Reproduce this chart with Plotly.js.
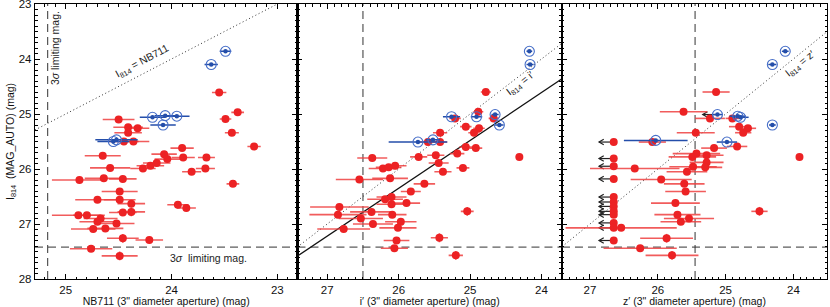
<!DOCTYPE html>
<html><head><meta charset="utf-8">
<script src="https://cdn.plot.ly/plotly-3.0.1.min.js"></script>
<style>html,body{margin:0;padding:0;background:#fff}#chart{width:830px;height:307px}</style>
</head><body><div id="chart"></div>
<script>
// ---------- Panel 1 : NB711 ----------
const nbRedX = [23.55,23.375,23.49,23.43,23.22,24.50,24.41,24.32,24.41,24.45,24.36,23.90,24.65,24.07,23.89,23.67,24.04,24.58,24.27,24.20,24.14,23.81,23.68,23.42,24.87,24.64,24.46,24.49,24.70,24.49,24.38,23.94,23.86,24.88,24.80,24.46,24.38,24.67,24.70,24.52,24.74,24.625,24.46,24.21,24.76,24.49];
const nbRedY = [24.61,24.97,25.09,25.34,25.59,25.10,25.24,25.26,25.34,25.50,25.50,25.62,25.76,25.73,25.79,25.79,25.82,25.98,25.99,25.94,25.89,26.05,25.99,26.27,26.20,26.17,26.18,26.41,26.56,26.56,26.63,26.65,26.71,26.84,26.84,26.79,26.78,26.90,26.96,26.99,27.09,27.08,27.26,27.29,27.45,27.58];
const nbRedErr = [0.068,0.06,0.055,0.066,0.063,0.15,0.14,0.11,0.13,0.14,0.15,0.11,0.17,0.12,0.11,0.08,0.12,0.19,0.12,0.13,0.13,0.09,0.09,0.06,0.26,0.18,0.13,0.17,0.21,0.15,0.13,0.10,0.09,0.25,0.13,0.13,0.13,0.16,0.17,0.17,0.21,0.17,0.15,0.13,0.20,0.17];
const nbRedYErr = [0.03,0.03,0.03,0.03,0.03,0.03,0.03,0.03,0.03,0.03,0.03,0.03,0.03,0.03,0.03,0.03,0.03,0.03,0.03,0.03,0.03,0.03,0.03,0.03,0.03,0.03,0.03,0.03,0.03,0.03,0.03,0.03,0.03,0.03,0.03,0.03,0.08,0.03,0.03,0.03,0.03,0.03,0.08,0.03,0.03,0.08];
const nbBlueX = [23.49,23.625,24.18,24.06,23.95,24.08,24.52,24.55];
const nbBlueY = [23.86,24.10,25.06,25.03,25.04,25.20,25.47,25.50];
const nbBlueErr = [0.055,0.063,0.12,0.10,0.12,0.12,0.20,0.15];

// ---------- Panel 2 : i' ----------
const iRedX = [24.78,24.885,25.21,24.67,25.06,24.875,24.945,25.42,25.59,25.42,25.06,24.92,25.18,24.31,26.37,25.72,25.48,26.22,26.14,26.05,25.44,25.38,25.10,26.55,26.12,25.64,25.83,26.19,26.10,26.10,25.89,26.83,26.85,26.38,26.09,25.04,26.53,26.36,25.97,26.77,26.01,25.43,26.03,26.06,25.20];
const iRedY = [24.60,24.96,25.08,25.08,25.23,25.26,25.34,25.34,25.51,25.51,25.60,25.62,25.72,25.78,25.80,25.78,25.75,25.99,25.97,25.94,25.89,26.05,25.98,26.19,26.17,26.27,26.41,26.55,26.51,26.64,26.62,26.69,26.83,26.78,26.83,26.77,26.90,27.00,26.96,27.09,27.07,27.25,27.30,27.44,27.57];
const iRedErr = [0.07,0.07,0.08,0.07,0.08,0.08,0.08,0.10,0.12,0.10,0.09,0.09,0.10,0.05,0.21,0.12,0.12,0.20,0.18,0.16,0.14,0.12,0.09,0.33,0.25,0.15,0.14,0.25,0.21,0.21,0.19,0.41,0.40,0.30,0.20,0.09,0.31,0.28,0.22,0.37,0.26,0.12,0.18,0.19,0.10];
const iRedYErr = [0.03,0.03,0.03,0.03,0.03,0.03,0.03,0.03,0.03,0.03,0.03,0.03,0.03,0.03,0.03,0.03,0.03,0.03,0.03,0.03,0.03,0.03,0.03,0.03,0.03,0.03,0.03,0.03,0.03,0.03,0.03,0.03,0.03,0.03,0.03,0.08,0.03,0.03,0.03,0.03,0.03,0.08,0.03,0.03,0.08];
const iBlueX = [24.17,24.16,25.26,24.91,24.65,24.59,25.73,25.52];
const iBlueY = [23.86,24.10,25.05,25.05,25.01,25.20,25.51,25.47];
const iBlueErr = [0.04,0.05,0.12,0.08,0.05,0.06,0.41,0.10];

// ---------- Panel 3 : z' ----------
const zRedX = [25.14,25.62,25.23,24.90,24.80,24.67,24.74,25.44,26.08,24.83,25.17,25.43,23.91,25.49,25.28,26.34,25.48,25.57,25.28,25.30,25.95,25.61,25.59,25.74,25.71,25.54,25.66,24.50,26.54,25.87,26.26,25.79];
const zRedY = [24.60,24.96,25.08,25.08,25.23,25.26,25.34,25.34,25.51,25.59,25.62,25.72,25.78,25.78,25.75,25.99,25.96,26.05,25.88,25.97,26.19,26.27,26.41,26.62,26.83,26.90,26.96,26.77,27.07,27.26,27.44,27.57];
const zRedErr = [0.20,0.35,0.22,0.10,0.15,0.12,0.12,0.28,0.20,0.15,0.19,0.35,0.05,0.35,0.25,0.66,0.35,0.30,0.25,0.25,0.45,0.30,0.30,0.36,0.34,0.37,0.30,0.12,0.82,0.39,0.54,0.39];
const zRedYErr = [0.03,0.03,0.03,0.03,0.03,0.03,0.03,0.03,0.03,0.03,0.03,0.03,0.03,0.03,0.03,0.03,0.03,0.03,0.03,0.03,0.03,0.03,0.03,0.03,0.03,0.03,0.03,0.08,0.03,0.08,0.03,0.08];
const zLimX = [26.65,26.65,26.65,26.65,26.65,26.65,26.65,26.65,26.65,26.65,26.65,26.65];
const zLimY = [25.51,25.81,25.95,26.18,26.51,26.60,26.68,26.77,26.83,26.98,27.07,27.30];
const zBlueX = [24.12,24.31,25.12,24.82,24.78,24.31,26.03,24.98];
const zBlueY = [23.86,24.10,25.01,25.04,25.06,25.20,25.48,25.51];
const zBlueErr = [0.05,0.06,0.08,0.12,0.12,0.05,0.47,0.15];
const zBlueIsLimit = [0,0,1,0,0,0,0,0];

// ---------- reference lines ----------
const limNB = 25.17, limIp = 26.5, limZp = 25.45, limI814 = 27.42;
const fitSlope = 0.870, fitIntercept = 3.73;
const xRanges = [[25.29, 22.81], [27.417, 23.713], [27.413, 23.504]];
const yRange = [28.0, 23.0];
const domains = [[0, 0.3314], [0.3314, 0.6654], [0.6654, 1]];

const RED = 'rgb(236,34,36)';
const REDBAR = 'rgba(238,64,64,0.85)';
const BLUE = 'rgb(36,78,170)';
const BLUERING = 'rgb(70,110,200)';
const DASH = '8px,5px';
const FONT = 'Liberation Sans, Arial, Helvetica, sans-serif';

const traces = [];
const ax = ['x', 'x2', 'x3'], ay = ['y', 'y2', 'y3'];

function refLines(k, vx) {
  const r = xRanges[k];
  traces.push({x: [r[0], r[1]], y: [r[0], r[1]], xaxis: ax[k], yaxis: ay[k], mode: 'lines',
    line: {color: '#333', width: 1, dash: '1px,2.6px'}, hoverinfo: 'skip', showlegend: false});
  traces.push({x: [vx, vx], y: yRange, xaxis: ax[k], yaxis: ay[k], mode: 'lines',
    line: {color: '#333', width: 1, dash: DASH}, hoverinfo: 'skip', showlegend: false});
  traces.push({x: r, y: [limI814, limI814], xaxis: ax[k], yaxis: ay[k], mode: 'lines',
    line: {color: '#333', width: 1, dash: DASH}, hoverinfo: 'skip', showlegend: false});
}
refLines(0, limNB); refLines(1, limIp); refLines(2, limZp);

traces.push({x: xRanges[1], y: xRanges[1].map(v => fitIntercept + fitSlope * v), xaxis: 'x2', yaxis: 'y2',
  mode: 'lines', line: {color: '#111', width: 1.3}, hoverinfo: 'skip', showlegend: false});

const L = 0.217, hx = 0.07, hy = 0.05;
const arrX = [], arrY = [];
function addArrow(x0, y0) {
  arrX.push(x0, x0 + L, null, x0 + L - hx, x0 + L, x0 + L - hx, null);
  arrY.push(y0, y0, null, y0 - hy, y0, y0 + hy, null);
}
zLimX.forEach((v, i) => addArrow(v, zLimY[i]));
zBlueX.forEach((v, i) => { if (zBlueIsLimit[i]) addArrow(v, zBlueY[i]); });
traces.push({x: arrX, y: arrY, xaxis: 'x3', yaxis: 'y3', mode: 'lines',
  line: {color: '#222', width: 1.2}, hoverinfo: 'skip', showlegend: false});

function redTrace(x, y, ex, ey, k) {
  const t = {x, y, xaxis: ax[k], yaxis: ay[k], mode: 'markers', type: 'scatter',
    marker: {color: RED, size: 8}, showlegend: false};
  if (ex) t.error_x = {type: 'data', array: ex, visible: true, color: REDBAR, thickness: 1.6, width: 0};
  if (ey) t.error_y = {type: 'data', array: ey, visible: true, color: REDBAR, thickness: 1.6, width: 0};
  return t;
}
function blueTraces(x, y, ex, k) {
  traces.push({x, y, xaxis: ax[k], yaxis: ay[k], mode: 'markers',
    marker: {symbol: 'circle-open', color: BLUERING, size: 10, line: {width: 1.1, color: BLUERING}},
    error_x: {type: 'data', array: ex, visible: true, color: BLUE, thickness: 1.5, width: 0},
    showlegend: false});
  traces.push({x, y, xaxis: ax[k], yaxis: ay[k], mode: 'markers',
    marker: {symbol: 'circle', color: BLUE, size: 4.5}, showlegend: false});
}
traces.push(redTrace(nbRedX, nbRedY, nbRedErr, nbRedYErr, 0));
traces.push(redTrace(iRedX, iRedY, iRedErr, iRedYErr, 1));
traces.push(redTrace(zRedX, zRedY, zRedErr, zRedYErr, 2));
traces.push(redTrace(zLimX, zLimY, null, null, 2));
blueTraces(nbBlueX, nbBlueY, nbBlueErr, 0);
blueTraces(iBlueX, iBlueY, iBlueErr, 1);
blueTraces(zBlueX, zBlueY, zBlueErr, 2);

const common = {
  showline: true, linecolor: '#000', linewidth: 1.2, mirror: 'ticks',
  ticks: 'inside', ticklen: 5, tickwidth: 1, tickcolor: '#000',
  showgrid: false, zeroline: false, dtick: 1, tick0: 0,
  tickfont: {family: FONT, size: 11.5, color: '#111'},
  ticklabeloverflow: 'allow',
  minor: {dtick: 0.1, ticks: 'inside', ticklen: 2.5, tickwidth: 1, tickcolor: '#000', showgrid: false},
  fixedrange: true
};
const xTitles = ['NB711 (3" diameter aperture) (mag)', 'i\u2032 (3" diameter aperture) (mag)', 'z\u2032 (3" diameter aperture) (mag)'];

const layout = {
  width: 830, height: 307,
  margin: {l: 35, r: 3, t: 4, b: 28},
  paper_bgcolor: '#fff', plot_bgcolor: '#fff',
  font: {family: FONT, color: '#111'},
  showlegend: false,
  annotations: [
    {text: '3<i>\u03c3</i> limiting mag.', xref: 'x', yref: 'y', x: 25.10, y: 23.80, textangle: -90, showarrow: false, font: {size: 10.5, color: '#222'}},
    {text: 'I<sub>814</sub> = NB711', xref: 'x', yref: 'y', x: 24.27, y: 24.04, textangle: -28, showarrow: false, font: {size: 10.5, color: '#222'}},
    {text: '3<i>\u03c3</i>  limiting mag.', xref: 'x', yref: 'y', x: 23.655, y: 27.61, showarrow: false, font: {size: 10.5, color: '#222'}},
    {text: 'I<sub>814</sub> = i\u2032', xref: 'x2', yref: 'y2', x: 24.30, y: 24.46, textangle: -38, showarrow: false, font: {size: 10.5, color: '#222'}},
    {text: 'I<sub>814</sub> = z\u2032', xref: 'x3', yref: 'y3', x: 23.90, y: 24.09, textangle: -39, showarrow: false, font: {size: 10.5, color: '#222'}}
  ]
};
for (let k = 0; k < 3; k++) {
  const xn = k === 0 ? 'xaxis' : 'xaxis' + (k + 1);
  const yn = k === 0 ? 'yaxis' : 'yaxis' + (k + 1);
  layout[xn] = Object.assign({}, common, {domain: domains[k], anchor: ay[k], range: xRanges[k], autorange: false,
    title: {text: xTitles[k], font: {family: FONT, size: 10.5, color: '#111'}, standoff: 2}});
  layout[yn] = Object.assign({}, common, {domain: [0, 1], anchor: ax[k], range: yRange, autorange: false,
    showticklabels: k === 0});
}
layout.yaxis.title = {text: 'I<sub>814</sub>  (MAG_AUTO) (mag)', font: {family: FONT, size: 10.5, color: '#111'}, standoff: 2};

Plotly.newPlot('chart', traces, layout, {staticPlot: true, displayModeBar: false});
</script>
</body></html>
